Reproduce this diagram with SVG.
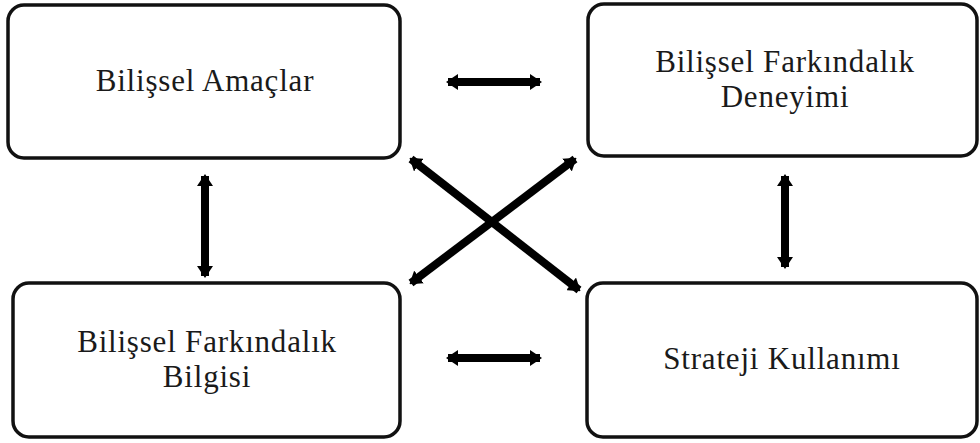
<svg xmlns="http://www.w3.org/2000/svg" width="980" height="443" viewBox="0 0 980 443">
<style>
.box{fill:#fff;stroke:#111;stroke-width:3.5}
.lbl{font-family:"Liberation Serif","Times New Roman",serif;font-size:31px;letter-spacing:0.8px;fill:#1a1a1a;text-anchor:middle}
.arr{stroke:#000;stroke-width:8;fill:none;marker-start:url(#ah);marker-end:url(#ah)}
</style>
<defs>
<marker id="ah" markerUnits="userSpaceOnUse" viewBox="0 0 12 16" refX="10" refY="8" markerWidth="12" markerHeight="16" orient="auto-start-reverse">
<path d="M0,0 L12,8 L0,16 Z" fill="#000"/>
</marker>
</defs>
<rect width="980" height="443" fill="#fff"/>
<g id="n1"><rect class="box" x="8" y="5" width="392" height="153" rx="16"/><text class="lbl" x="205" y="91">Bilişsel Amaçlar</text></g>
<g id="n2"><rect class="box" x="588" y="4" width="389" height="152" rx="16"/><text class="lbl" x="785" y="72">Bilişsel Farkındalık</text><text class="lbl" x="785" y="107">Deneyimi</text></g>
<g id="n3"><rect class="box" x="13" y="283" width="387" height="154" rx="16"/><text class="lbl" x="207" y="352">Bilişsel Farkındalık</text><text class="lbl" x="207" y="387">Bilgisi</text></g>
<g id="n4"><rect class="box" x="587" y="283" width="390" height="154" rx="16"/><text class="lbl" x="782" y="369">Strateji Kullanımı</text></g>
<g id="connectors">
<line class="arr" x1="448" y1="82" x2="540" y2="82"/>
<line class="arr" x1="448" y1="358" x2="540" y2="358"/>
<line class="arr" x1="205" y1="176" x2="205" y2="276"/>
<line class="arr" x1="785" y1="176" x2="785" y2="267"/>
<line class="arr" x1="411" y1="159" x2="579" y2="290"/>
<line class="arr" x1="575" y1="159" x2="411" y2="283"/>
</g>
</svg>
